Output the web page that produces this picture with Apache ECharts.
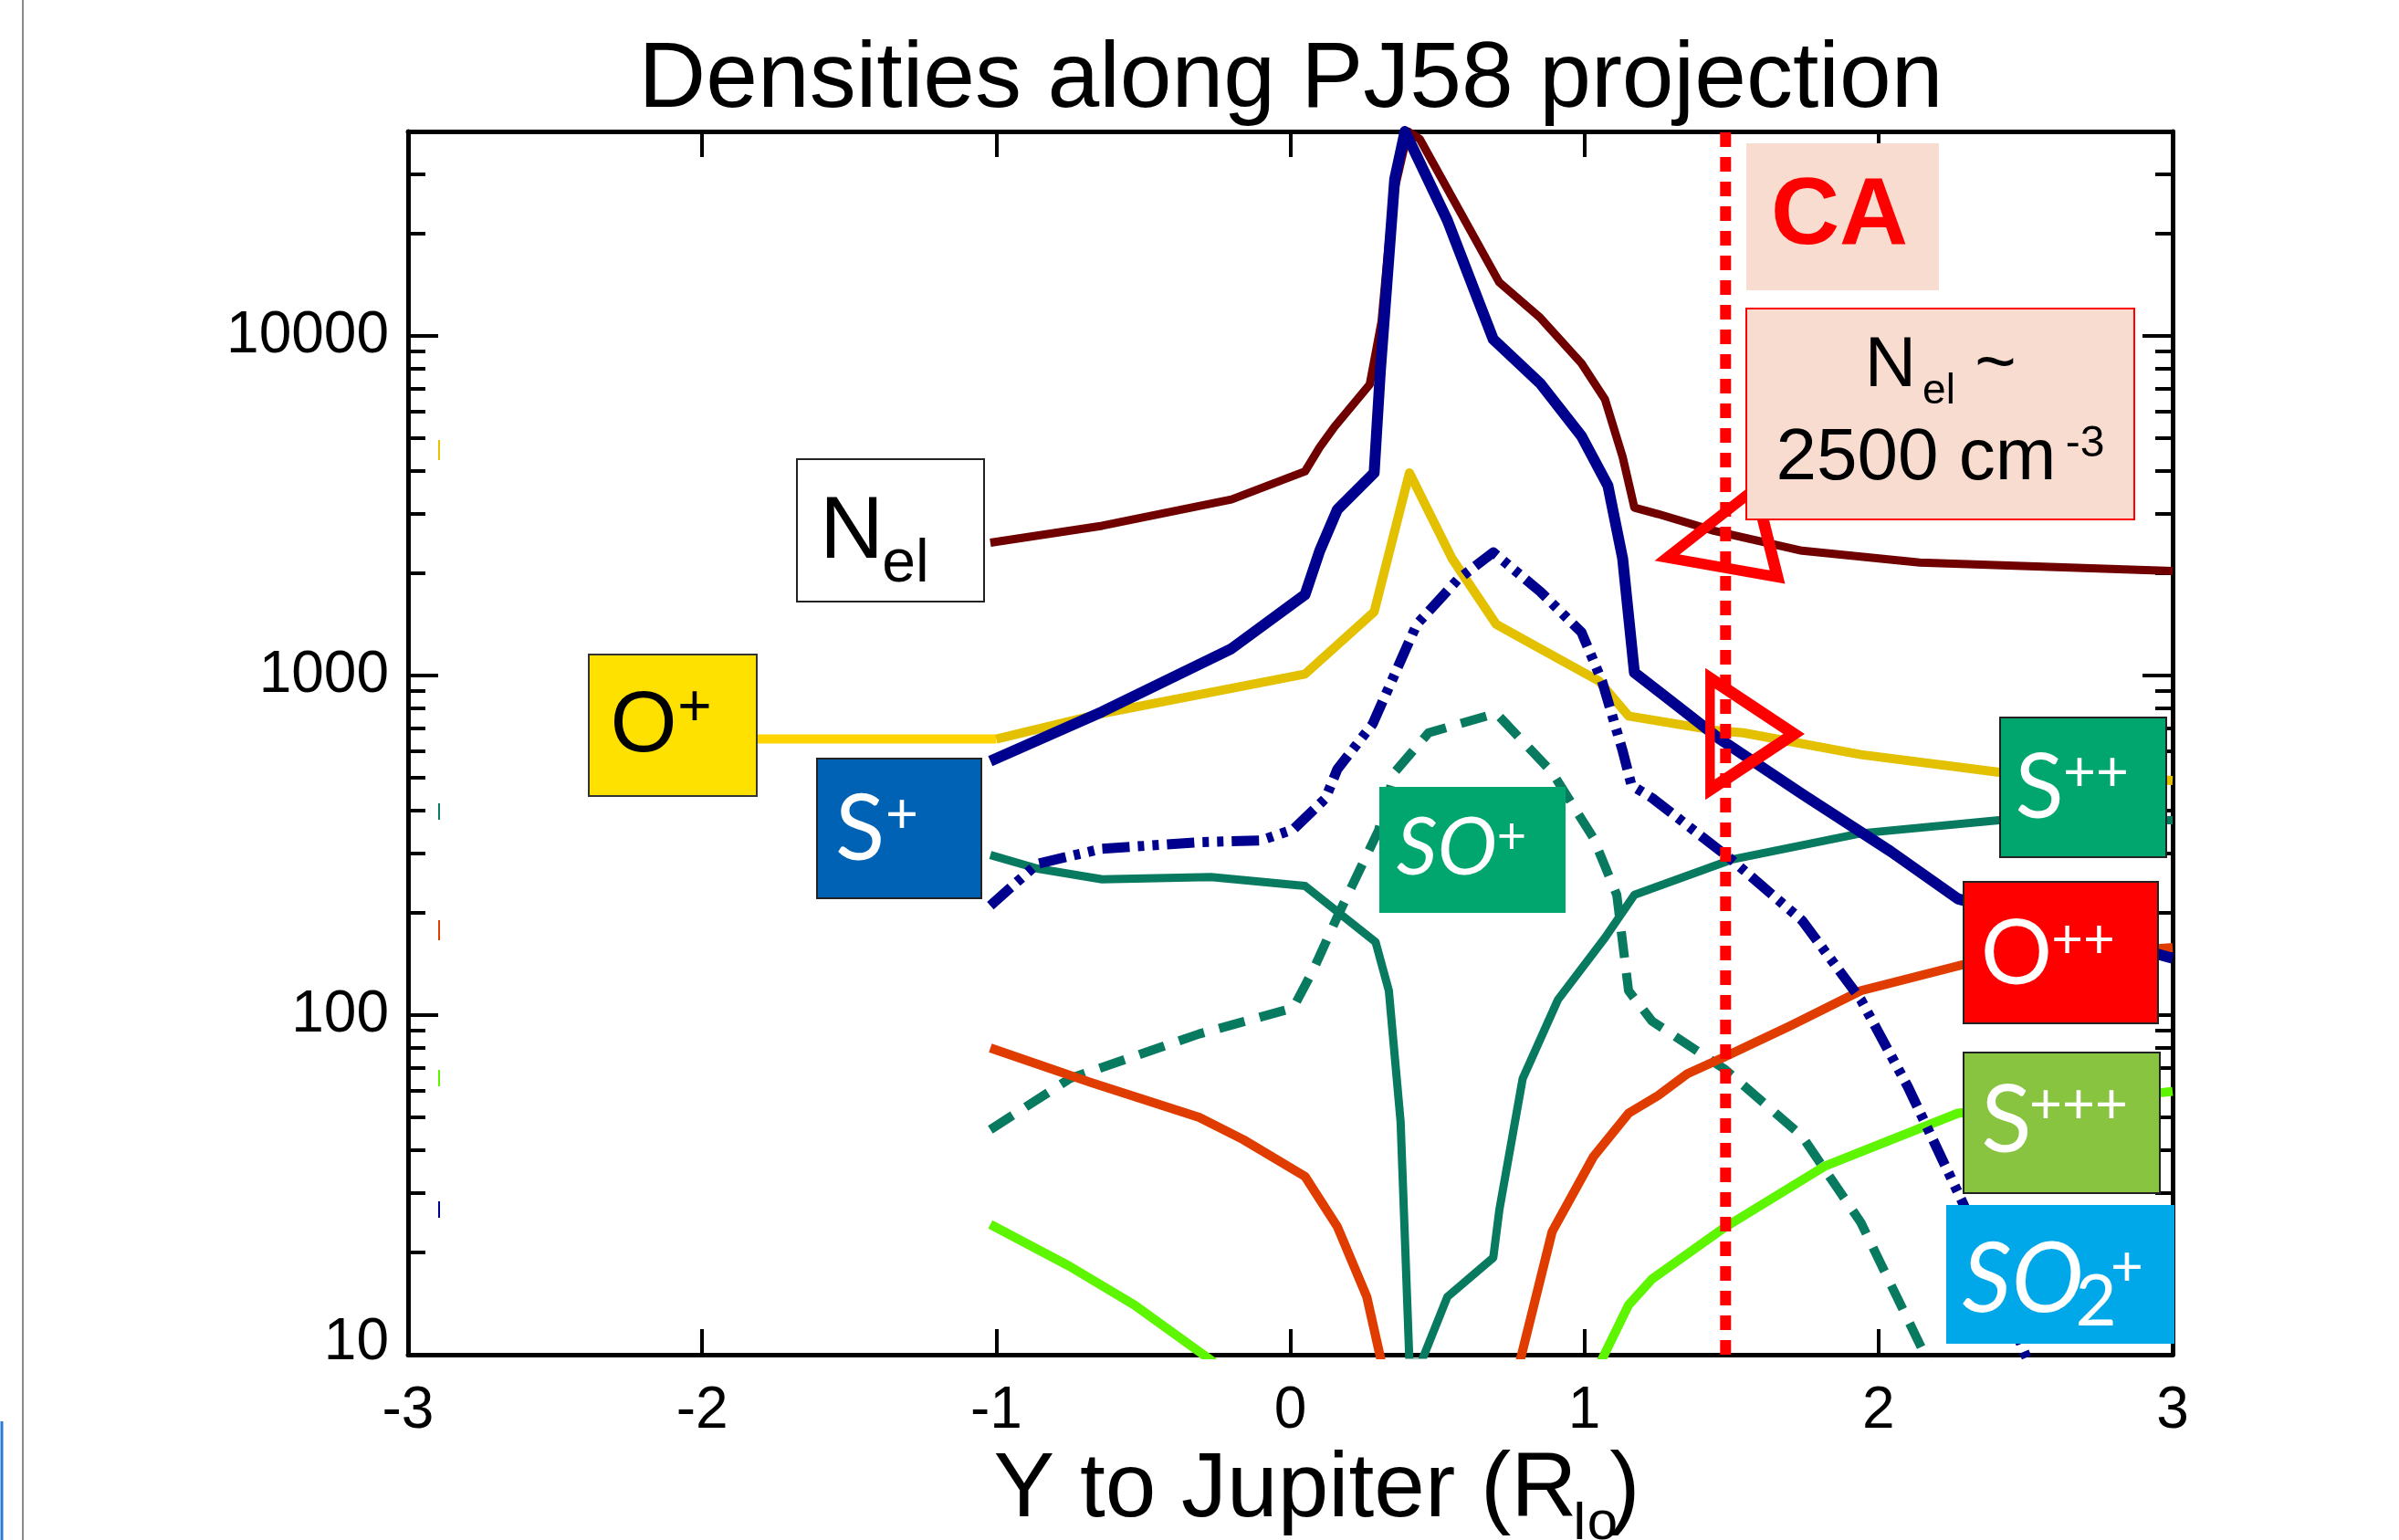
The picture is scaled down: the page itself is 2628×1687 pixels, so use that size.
<!DOCTYPE html>
<html>
<head>
<meta charset="utf-8">
<title>Densities along PJ58 projection</title>
<script src="https://cdn.jsdelivr.net/npm/echarts@6.0.0/dist/echarts.min.js"></script>
<style>
html,body{margin:0;padding:0;background:#ffffff;}
#chart{width:2628px;height:1687px;}
</style>
</head>
<body>
<div id="chart"></div>
<script>
// ---------------- data ----------------
const X_TICKS = [-3, -2, -1, 0, 1, 2, 3];
const Y_MAJOR = [10, 100, 1000, 10000];
const Y_MINOR = [20, 30, 40, 50, 60, 70, 80, 90, 200, 300, 400, 500, 600, 700, 800, 900,
                 2000, 3000, 4000, 5000, 6000, 7000, 8000, 9000, 20000, 30000];

// N_el (electrons)
const NEL_X = [-1.02, -0.64, -0.2, 0.05, 0.10, 0.15, 0.27, 0.31, 0.35, 0.40, 0.44, 0.71, 0.85, 0.99, 1.07, 1.13, 1.17, 1.25, 1.44, 1.74, 2.14, 3.0];
const NEL_Y = [2460, 2760, 3300, 3990, 4700, 5400, 7200, 11000, 26000, 40000, 38000, 14400, 11300, 8300, 6500, 4400, 3120, 2990, 2670, 2330, 2150, 2030];

// S+ (navy solid)
const SP_X = [-1.02, -0.64, -0.2, 0.05, 0.10, 0.16, 0.285, 0.306, 0.355, 0.39, 0.534, 0.69, 0.85, 0.99, 1.08, 1.13, 1.17, 1.28, 1.46, 1.74, 2.04, 2.27, 3.0];
const SP_Y = [560, 782, 1200, 1730, 2330, 3080, 3950, 7870, 29000, 40000, 21900, 9770, 7240, 5070, 3620, 2210, 1020, 861, 650, 448, 304, 220, 147];

// O+ (yellow) and its label connector
const OPC_X = [-1.9, -1.0];
const OPC_Y = [650, 650];
const OP_X = [-1.0, -0.64, 0.05, 0.285, 0.405, 0.55, 0.70, 0.85, 1.05, 1.15, 1.44, 1.54, 1.94, 2.41, 3.0];
const OP_Y = [650, 773, 1010, 1540, 3950, 2210, 1415, 1200, 962, 760, 690, 678, 585, 519, 491];

// S++ (teal solid)
const SPP_X = [-1.02, -0.86, -0.64, -0.27, 0.05, 0.29, 0.335, 0.375, 0.405, 0.445, 0.534, 0.69, 0.711, 0.79, 0.91, 1.07, 1.17, 1.50, 1.94, 2.41, 3.0];
const SPP_Y = [296, 270, 251, 255, 240, 164, 118, 48.5, 9.5, 9.5, 14.8, 19.3, 26.8, 65, 111, 169, 226, 287, 343, 375, 375];

// SO+ (teal dashed)
const SOP_X = [-1.02, -0.75, -0.31, 0.01, 0.08, 0.16, 0.30, 0.355, 0.47, 0.70, 0.89, 1.03, 1.11, 1.15, 1.23, 1.48, 1.74, 1.94, 2.17];
const SOP_Y = [46, 65, 88, 105, 137, 195, 350, 519, 678, 774, 519, 333, 226, 118, 96, 69, 44, 24.5, 9.5];

// O++ (orange red)
const OPP_X = [-1.02, -0.68, -0.31, -0.16, 0.05, 0.16, 0.26, 0.31, 0.55, 0.78, 0.89, 1.03, 1.15, 1.25, 1.35, 1.48, 1.70, 1.94, 2.29, 3.0];
const OPP_Y = [80, 63.4, 50, 43, 33.5, 23.8, 14.8, 9.5, null, 9.5, 23, 38.2, 51.4, 57.9, 67.2, 75.6, 93, 118, 141, 158];

// S+++ (bright green)
const SPPP_X = [-1.02, -0.75, -0.53, -0.26, 0.4, 1.055, 1.15, 1.23, 1.48, 1.82, 2.27, 3.0];
const SPPP_Y = [24.2, 18.2, 14, 9.5, null, 9.5, 14, 16.7, 23.8, 36, 51.4, 59.6];

// SO2+ (navy dash-dot-dot)
const SO2P_X = [-1.02, -0.86, -0.64, -0.31, -0.10, 0.01, 0.12, 0.16, 0.28, 0.43, 0.57, 0.69, 0.85, 0.99, 1.06, 1.13, 1.16, 1.23, 1.50, 1.74, 1.94, 2.10, 2.29, 2.51];
const SO2P_Y = [210, 279, 309, 323, 327, 352, 435, 530, 720, 1415, 1920, 2305, 1766, 1340, 962, 600, 475, 436, 287, 190, 111, 61.5, 27.6, 9.5];

// closest approach line and markers
const CA_X = [1.48, 1.48];
const CA_Y = [10, 40000];
const MARK_X = [1.45, 1.57];
const MARK_Y = [2420, 673];

// ---------------- helpers ----------------
const pairs = (xs, ys) => xs.map((x, i) => [x, ys[i]]);
function lineSeries(name, xs, ys, color, width, type) {
  return {
    type: 'line', name: name, data: pairs(xs, ys), xAxisIndex: 0, yAxisIndex: 0,
    showSymbol: false, symbol: 'none', clip: true, connectNulls: false, silent: true,
    lineStyle: { color: color, width: width, type: type || 'solid', cap: 'butt', join: 'round' },
    z: 3
  };
}
const K = 0.34;
function txt(text, cx, y, size, o) {
  o = o || {};
  return {
    type: 'text', x: cx, y: y, z: 120, silent: true,
    style: {
      text: text, fill: o.color || '#000000', fontSize: size,
      fontFamily: o.family || 'Liberation Sans',
      fontStyle: o.italic ? 'italic' : 'normal', fontWeight: o.bold ? 'bold' : 'normal',
      align: 'center', verticalAlign: 'middle', textAlign: 'center', textVerticalAlign: 'middle'
    }
  };
}
const T = (text, cx, base, size, o) => txt(text, cx, base - K * size, size, o);
const C = (text, cx, cy, size, o) => txt(text, cx, cy, size, o);
function box(x, y, w, h, fill, stroke, lw) {
  return { type: 'rect', z: 100, silent: true, shape: { x: x, y: y, width: w, height: h },
           style: { fill: fill, stroke: stroke || null, lineWidth: stroke ? (lw || 2) : 0 } };
}
function vline(x, y1, y2, color, w) {
  return { type: 'line', z: 100, silent: true, shape: { x1: x, y1: y1, x2: x, y2: y2 },
           style: { stroke: color, lineWidth: w } };
}
const W = { color: '#ffffff', family: 'Lato' };
const WI = { color: '#ffffff', family: 'Lato', italic: true };

const GRID = { left: 447, right: 248, top: 144, bottom: 203 };
const AX = { color: '#000000', width: 5 };
const labelFont = { fontFamily: 'Liberation Sans', fontSize: 64, color: '#000000' };

function logY(gridIndex, position, ticks, len, showLine, showLabel) {
  return {
    type: 'log', logBase: 10, min: 10, max: 40000, gridIndex: gridIndex, position: position,
    axisLine: { show: showLine, onZero: false, lineStyle: AX },
    axisTick: { show: true, inside: true, length: len, customValues: ticks, lineStyle: { color: '#000', width: 4 } },
    axisLabel: Object.assign({
      show: showLabel, margin: 21, customValues: Y_MAJOR,
      formatter: v => (v === 10 ? '{low|10}' : String(v)),
      rich: { low: { fontFamily: 'Liberation Sans', fontSize: 64, color: '#000000', padding: [0, 0, 26, 0] } }
    }, labelFont),
    splitLine: { show: false }, minorTick: { show: false }
  };
}

const option = {
  animation: false,
  backgroundColor: '#ffffff',
  grid: [
    Object.assign({ containLabel: false }, GRID),
    Object.assign({ containLabel: false }, GRID)
  ],
  xAxis: [
    {
      type: 'value', min: -3, max: 3, interval: 1, gridIndex: 0, position: 'bottom',
      axisLine: { show: true, onZero: false, lineStyle: AX },
      axisTick: { show: true, inside: true, length: 28, customValues: X_TICKS, lineStyle: { color: '#000', width: 4 } },
      axisLabel: Object.assign({ show: true, margin: 62, verticalAlign: 'middle', customValues: X_TICKS, formatter: v => String(v) }, labelFont),
      splitLine: { show: false }
    },
    {
      type: 'value', min: -3, max: 3, interval: 1, gridIndex: 0, position: 'top',
      axisLine: { show: true, onZero: false, lineStyle: AX },
      axisTick: { show: true, inside: true, length: 28, customValues: X_TICKS, lineStyle: { color: '#000', width: 4 } },
      axisLabel: { show: false }, splitLine: { show: false }
    },
    {
      type: 'value', min: -3, max: 3, interval: 1, gridIndex: 1, show: false
    }
  ],
  yAxis: [
    logY(0, 'left', Y_MAJOR, 33, true, true),
    logY(0, 'right', Y_MAJOR, 33, true, false),
    logY(1, 'left', Y_MINOR, 19, false, false),
    logY(1, 'right', Y_MINOR, 19, false, false)
  ],
  series: [
    lineSeries('N_el', NEL_X, NEL_Y, '#700000', 9),
    lineSeries('O+ label', OPC_X, OPC_Y, '#ffd400', 10),
    lineSeries('O+', OP_X, OP_Y, '#e3c100', 10),
    lineSeries('S++', SPP_X, SPP_Y, '#087a60', 9),
    lineSeries('SO+', SOP_X, SOP_Y, '#087a60', 10, [29, 17]),
    lineSeries('O++', OPP_X, OPP_Y, '#e03c00', 10),
    lineSeries('S+++', SPPP_X, SPPP_Y, '#5ef500', 10),
    lineSeries('SO2+', SO2P_X, SO2P_Y, '#00008f', 11, [30, 9, 7, 9, 7, 9]),
    lineSeries('S+', SP_X, SP_Y, '#00008f', 12),
    Object.assign(lineSeries('CA', CA_X, CA_Y, '#ff0000', 12, [16, 11]), { z: 5 }),
    {
      type: 'scatter', name: 'CA markers', xAxisIndex: 0, yAxisIndex: 0, z: 6, silent: true,
      symbol: 'triangle',
      data: pairs(MARK_X, MARK_Y).map((p, i) => ({
        value: p,
        symbolRotate: [104, -90][i],
        symbolSize: [[100, 112], [122, 92]][i]
      })),
      itemStyle: { color: 'rgba(255,255,255,0)', borderColor: '#ff0000', borderWidth: 12, opacity: 1 }
    }
  ],
  graphic: {
    elements: [
      // screenshot edge artefacts
      vline(25, 0, 1687, '#8a8a8a', 2),
      vline(2, 1557, 1687, '#2a7bd4', 3),
      { type: 'rect', z: 100, silent: true, shape: { x: 480, y: 482, width: 2, height: 22 }, style: { fill: '#e6c200' } },
      { type: 'rect', z: 100, silent: true, shape: { x: 480, y: 880, width: 2, height: 18 }, style: { fill: '#0a7a60' } },
      { type: 'rect', z: 100, silent: true, shape: { x: 480, y: 1008, width: 2, height: 22 }, style: { fill: '#e04000' } },
      { type: 'rect', z: 100, silent: true, shape: { x: 480, y: 1172, width: 2, height: 18 }, style: { fill: '#5ef500' } },
      { type: 'rect', z: 100, silent: true, shape: { x: 480, y: 1316, width: 2, height: 18 }, style: { fill: '#000090' } },

      // title and axis name
      T('Densities along PJ58 projection', 1414, 124, 102),
      T('Y to Jupiter (R', 1408, 1667, 100),
      T('Io', 1747, 1690, 60),
      T(')', 1780, 1667, 100),

      // label boxes
      box(873, 503, 205, 156, '#ffffff', '#222222', 2),
      box(645, 717, 184, 155, '#ffe100', '#333333', 2),
      box(895, 831, 180, 153, '#0062b5', '#222222', 2),
      box(1511, 862, 204, 138, '#00a66d'),
      box(2191, 786, 182, 153, '#00a66d', '#222222', 2),
      box(2151, 966, 213, 155, '#ff0000', '#222222', 2),
      box(2151, 1153, 215, 154, '#88c440', '#222222', 2),
      box(2132, 1320, 250, 152, '#00a8ea'),
      box(1913, 157, 211, 161, '#f8dcd0'),
      box(1913, 338, 425, 231, '#f8dcd0', '#ff0000', 2),

      // box texts
      T('N', 933, 617, 97), T('el', 992, 641, 66),
      T('O', 705, 829, 94), C('+', 761, 777, 64),
      T('S', 942, 944, 100, W), C('+', 988, 892, 62, W),
      T('SO', 1585, 960, 88, WI), C('+', 1656, 917, 56, W),
      T('S', 2234, 898, 98, W), C('++', 2296, 846, 62, W),
      T('O', 2209, 1080, 98, W), C('++', 2282, 1030, 60, W),
      T('S', 2198, 1264, 102, W), C('+++', 2277, 1210, 62, W),
      T('SO', 2216, 1439, 106, WI), T('2', 2296, 1453, 78, W), C('+', 2330, 1388, 62, W),
      T('CA', 2015, 274, 104, { color: '#ff0000', bold: true }),
      T('N', 2071, 428, 78), T('el', 2124, 445, 46), C('~', 2186, 400, 78),
      T('2500 cm', 2099, 530, 80), C('-3', 2284, 487, 48)
    ]
  }
};

const chart = echarts.init(document.getElementById('chart'), null, { renderer: 'canvas', width: 2628, height: 1687 });
chart.setOption(option);
</script>
</body>
</html>
